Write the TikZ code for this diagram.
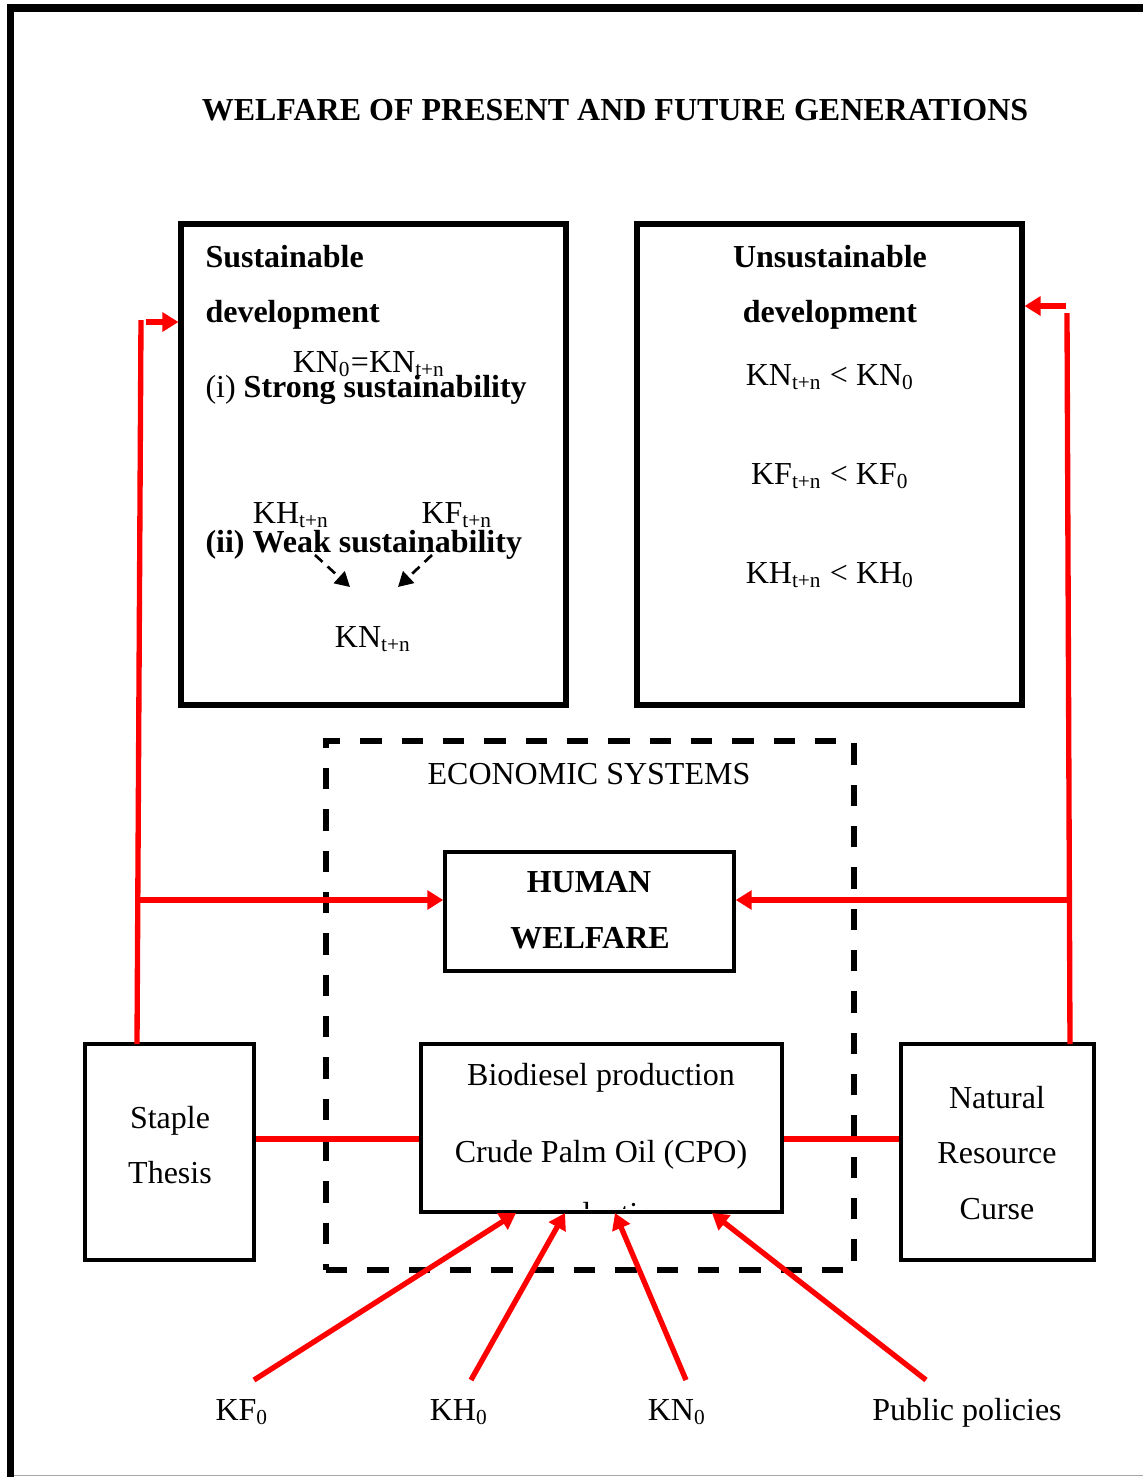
\documentclass[tikz,border=0pt]{standalone}
\usepackage{fontspec}
\setmainfont{Liberation Serif}
\usetikzlibrary{arrows.meta,fit}
\begin{document}
\begin{tikzpicture}[x=0.375pt,y=-0.375pt,
  txt/.style={inner sep=0pt,font=\fontsize{12}{14}\selectfont},
  btxt/.style={inner sep=0pt,font=\fontsize{12}{14}\selectfont\bfseries},
  frame/.style={draw=black,line width=1.9pt,inner sep=0pt},
  thinframe/.style={draw=black,line width=1.3pt,inner sep=0pt},
  midframe/.style={draw=black,line width=1.5pt,inner sep=0pt},
  econframe/.style={draw=black,line width=1.9pt,dash pattern=on 8pt off 7.5pt,inner sep=0pt},
  redline/.style={draw=red,line width=2pt},
  redarrow/.style={draw=red,line width=2pt,-{Triangle[length=6pt,width=7pt]}},
  dasharrow/.style={draw=black,line width=1pt,dash pattern=on 3.8pt off 2.6pt,-{Triangle[length=5.5pt,width=6pt]}}]
\useasboundingbox (0,0) rectangle (1143,1477);

% page frame
\draw[line width=3pt] (7,8) -- (1143,8);
\draw[line width=2.6pt] (10.5,4) -- (10.5,1477);
\draw[gray!70,line width=0.4pt] (14,1475.5) -- (1143,1475.5);

% third line of the production box runs past its lower edge
\begin{scope}
  \clip (423,1046) rectangle (780,1208);
  \node[txt,anchor=base] (b3) at (601,1224) {production};
\end{scope}

% title
\node[btxt,anchor=base] (title) at (615,120) {WELFARE OF PRESENT AND FUTURE GENERATIONS};

% boxes
\node[frame,fit={(181,224) (566,705)}] (sus) {};
\node[frame,fit={(637,224) (1022,705)}] (unsus) {};
\node[econframe,fit={(326,741) (854,1270)}] (econ) {};
\node[thinframe,fit={(445,852) (734,971)}] (hw) {};
\node[midframe,fit={(85,1044) (254,1260)}] (staple) {};
\node[midframe,fit={(421,1044) (782,1212)}] (bio) {};
\node[midframe,fit={(901,1044) (1094,1260)}] (nrc) {};

% sustainable development
\node[btxt,anchor=base west] (s1) at (205,267) {Sustainable};
\node[btxt,anchor=base west] (s2) at (205,322) {development};
\node[txt,anchor=base] (s3) at (369,372) {KN\textsubscript{0}=KN\textsubscript{t+n}};
\node[txt,anchor=base west] (s4) at (205,397) {(i) \textbf{Strong sustainability}};
\node[txt,anchor=base] (kh) at (291,523) {KH\textsubscript{t+n}};
\node[txt,anchor=base] (kf) at (457,523) {KF\textsubscript{t+n}};
\node[btxt,anchor=base west] (s5) at (205,552) {(ii) Weak sustainability};
\node[txt,anchor=base] (kn) at (373,647) {KN\textsubscript{t+n}};
\coordinate (wa1) at (315,555);
\coordinate (wa2) at (350,587);
\coordinate (wb1) at (432,555);
\coordinate (wb2) at (398,587);
\draw[dasharrow] (wa1) -- (wa2);
\draw[dasharrow] (wb1) -- (wb2);

% unsustainable development
\node[btxt,anchor=base] (u1) at (830,267) {Unsustainable};
\node[btxt,anchor=base] (u2) at (830,322) {development};
\node[txt,anchor=base] (u3) at (830,385) {KN\textsubscript{t+n} < KN\textsubscript{0}};
\node[txt,anchor=base] (u4) at (830,484) {KF\textsubscript{t+n} < KF\textsubscript{0}};
\node[txt,anchor=base] (u5) at (830,583) {KH\textsubscript{t+n} < KH\textsubscript{0}};

% economic systems
\node[txt,anchor=base] (e1) at (589,784) {ECONOMIC SYSTEMS};
\node[btxt,anchor=base] (h1) at (589,892) {HUMAN};
\node[btxt,anchor=base] (h2) at (590,948) {WELFARE};

\node[txt,anchor=base] (b1) at (601,1085) {Biodiesel production};
\node[txt,anchor=base] (b2) at (601,1162) {Crude Palm Oil (CPO)};

\node[txt,anchor=base] (st1) at (170,1128) {Staple};
\node[txt,anchor=base] (st2) at (170,1183) {Thesis};

\node[txt,anchor=base] (n1) at (997,1108) {Natural};
\node[txt,anchor=base] (n2) at (997,1163) {Resource};
\node[txt,anchor=base] (n3) at (997,1219) {Curse};

% bottom inputs
\node[txt,anchor=base] (kf0) at (242,1420) {KF\textsubscript{0}};
\node[txt,anchor=base] (kh0) at (459,1420) {KH\textsubscript{0}};
\node[txt,anchor=base] (kn0) at (677,1420) {KN\textsubscript{0}};
\node[txt,anchor=base] (pp) at (967,1420) {Public policies};

% left loop
\coordinate (Lbot) at (137,1044);
\coordinate (Ltop) at (141,320);
\coordinate (Lel) at (146,322);
\coordinate (Lmid) at (135,900);
\draw[redline] (Lbot) -- (Ltop);
\draw[redarrow] (Lel) -- (Lel -| sus.west);
\draw[redarrow] (Lmid) -- (Lmid -| hw.west);

% right loop
\coordinate (Rbot) at (1070,1044);
\coordinate (Rtop) at (1067,313);
\coordinate (Rel) at (1066,306);
\coordinate (Rmid) at (1069,900);
\draw[redline] (Rbot) -- (Rtop);
\draw[redarrow] (Rel) -- (Rel -| unsus.east);
\draw[redarrow] (Rmid) -- (Rmid -| hw.east);

% side links
\coordinate (Sy) at (0,1139);
\draw[redline] (Sy -| staple.east) -- (Sy -| bio.west);
\draw[redline] (Sy -| bio.east) -- (Sy -| nrc.west);

% inputs into production
\coordinate (i1) at (254,1380);
\coordinate (i2) at (471,1380);
\coordinate (i3) at (686,1380);
\coordinate (i4) at (926,1380);
\coordinate (t1) at (516,1213);
\coordinate (t2) at (565,1213);
\coordinate (t3) at (615,1213);
\coordinate (t4) at (712,1213);
\draw[redarrow] (i1) -- (t1);
\draw[redarrow] (i2) -- (t2);
\draw[redarrow] (i3) -- (t3);
\draw[redarrow] (i4) -- (t4);
\end{tikzpicture}
\end{document}
